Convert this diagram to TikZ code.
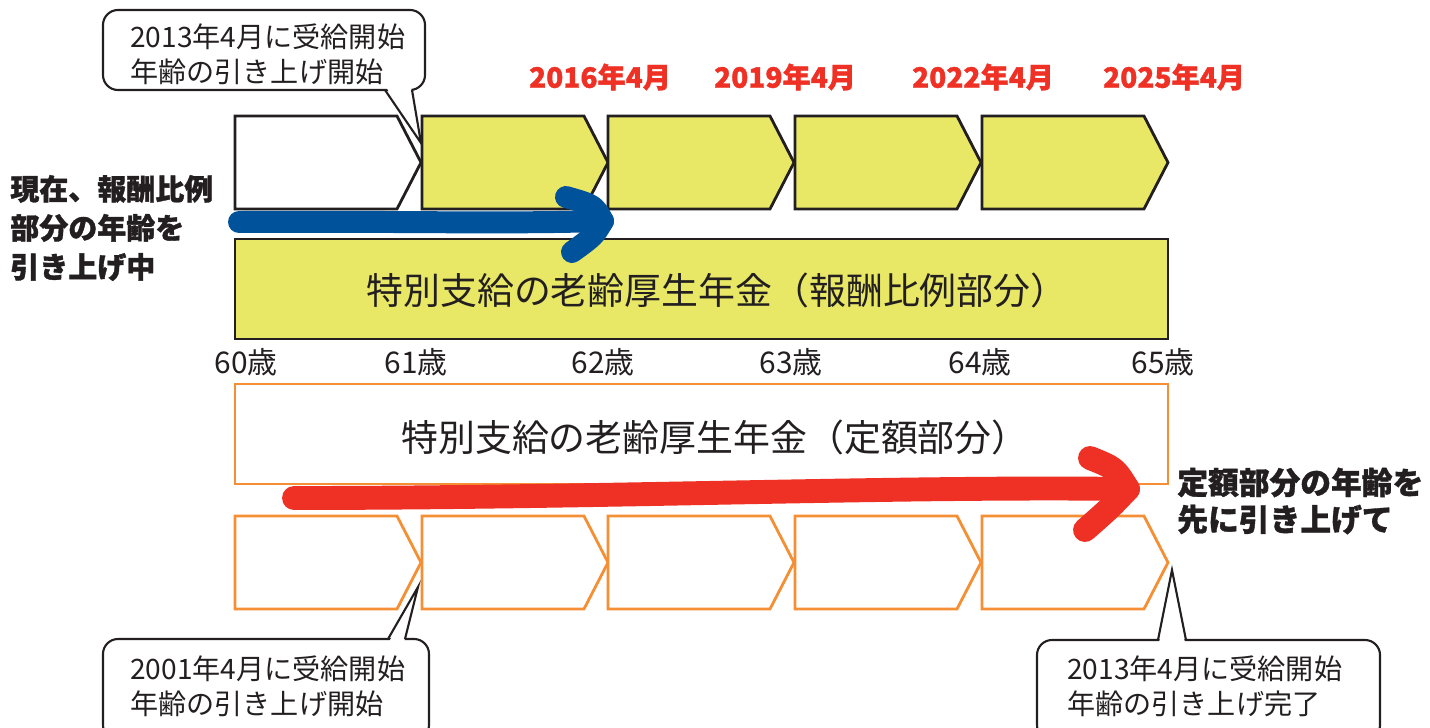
\documentclass[tikz,border=0pt]{standalone}
\usepackage{fontspec}
\setmainfont{Noto Sans CJK JP}
\newfontfamily\heavy{Noto Sans CJK JP}[BoldFeatures={FakeBold=1.2}]
\definecolor{ink}{HTML}{231F20}
\definecolor{yel}{HTML}{E8E866}
\definecolor{org}{HTML}{F58F35}
\definecolor{blu}{HTML}{00529B}
\definecolor{redA}{HTML}{EE3124}
\begin{document}
\begin{tikzpicture}[x=0.02cm,y=-0.02cm,
  chevY/.style={draw=ink,fill=yel,line width=1.6pt},
  chevW/.style={draw=ink,fill=white,line width=1.6pt},
  chevO/.style={draw=org,fill=white,line width=1.6pt},
  call/.style={draw=ink,line width=1.2pt},
  calltext/.style={text=ink,font=\fontsize{16}{20}\selectfont,align=left,inner sep=0pt,anchor=west},
  agetext/.style={text=ink,font=\fontsize{17}{20}\selectfont,inner sep=0pt},
  yeartext/.style={text=redA,font=\heavy\bfseries\fontsize{16}{20}\selectfont,inner sep=0pt},
  boxtext/.style={text=ink,font=\fontsize{21}{24}\selectfont,inner sep=0pt},
  bigtext/.style={text=ink,font=\heavy\bfseries\fontsize{16.5}{22.2}\selectfont,align=left,inner sep=0pt,anchor=west},
  arrB/.style={draw=blu,line width=12.5pt,line cap=round,line join=round},
  arrR/.style={draw=redA,line width=13.6pt,line cap=round,line join=round}]
\useasboundingbox (0,0) rectangle (1430,727);
\clip (0,0) rectangle (1430,727);
% top chevrons
\foreach \i/\L in {1/235,2/422,3/608,4/795,5/982}{
  \ifnum\i=1
    \draw[chevW] (\L,116) -- ++(162,0) -- ++(24,46.5) -- ++(-24,46.5) -- ++(-162,0) -- cycle;
  \else
    \draw[chevY] (\L,116) -- ++(162,0) -- ++(24,46.5) -- ++(-24,46.5) -- ++(-162,0) -- cycle;
  \fi
  \coordinate (t\i) at (\L+186,162.5);
  \draw[chevO] (\L,516) -- ++(162,0) -- ++(24,46.5) -- ++(-24,46.5) -- ++(-162,0) -- cycle;
  \coordinate (b\i) at (\L+186,562.5);
}
% big boxes
\draw[chevY] (235,239) rectangle (1168,339);
\node[boxtext] (hirei) at (717,290) {特別支給の老齢厚生年金（報酬比例部分）};
\draw[chevO] (235,384) rectangle (1168,484);
\node[boxtext] (teigaku) at (715,437) {特別支給の老齢厚生年金（定額部分）};
% years
\node[yeartext] (y16) at (600,77) {2016年4月};
\node[yeartext] (y19) at (785,77) {2019年4月};
\node[yeartext] (y22) at (983,77) {2022年4月};
\node[yeartext] (y25) at (1174,77) {2025年4月};
% ages
\node[agetext] (a60) at (246,362) {60歳};
\node[agetext] (a61) at (416,362) {61歳};
\node[agetext] (a62) at (603,362) {62歳};
\node[agetext] (a63) at (791,362) {63歳};
\node[agetext] (a64) at (980,362) {64歳};
\node[agetext] (a65) at (1163,362) {65歳};
% side texts
\node[bigtext] (lt) at (10,228) {現在、報酬比例\\部分の年齢を\\引き上げ中};
\node[bigtext,font=\heavy\bfseries\fontsize{17.5}{21}\selectfont] (rt) at (1177,501) {定額部分の年齢を\\先に引き上げて};
% blue arrow
\coordinate (bs) at (239,222);
\coordinate (bt) at (603,221);
\coordinate (bu) at (566,197);
\coordinate (bl) at (572,252);
\draw[arrB] (bs) .. controls (400,221) and (500,224) .. (bt);
\draw[arrB] (bu) .. controls (594,205) .. (bt) .. controls (594,236) .. (bl);
% red arrow
\coordinate (rs) at (294,498);
\coordinate (rt) at (1128,489);
\coordinate (ru) at (1090,458);
\coordinate (rl) at (1085,530);
\draw[arrR] (rs) .. controls (600,498) and (900,486) .. (rt);
\draw[arrR] (ru) .. controls (1115,468) .. (rt) .. controls (1110,508) .. (rl);
% callout top
\draw[call,rounded corners=0.3cm] (103,10) rectangle (425,90);
\fill[white] (386,87) -- (421,143) -- (411,87) -- cycle;
\draw[call] (385,90) -- (421,143) -- (412,90);
\node[calltext] (c1) at (130,54) {2013年4月に受給開始\\年齢の引き上げ開始};
% callout bottom left
\draw[call,rounded corners=0.3cm] (103,639) rectangle (429,740);
\fill[white] (389,642) -- (418,587) -- (404,642) -- cycle;
\draw[call] (388,639) -- (418,587) -- (405,639);
\node[calltext] (c2) at (130,686) {2001年4月に受給開始\\年齢の引き上げ開始};
% callout bottom right
\draw[call,rounded corners=0.3cm] (1037,640) rectangle (1380,740);
\fill[white] (1159,643) -- (1172,570) -- (1185,643) -- cycle;
\draw[call] (1158,640) -- (1172,570) -- (1186,640);
\node[calltext] (c3) at (1067,686) {2013年4月に受給開始\\年齢の引き上げ完了};
\end{tikzpicture}
\end{document}
